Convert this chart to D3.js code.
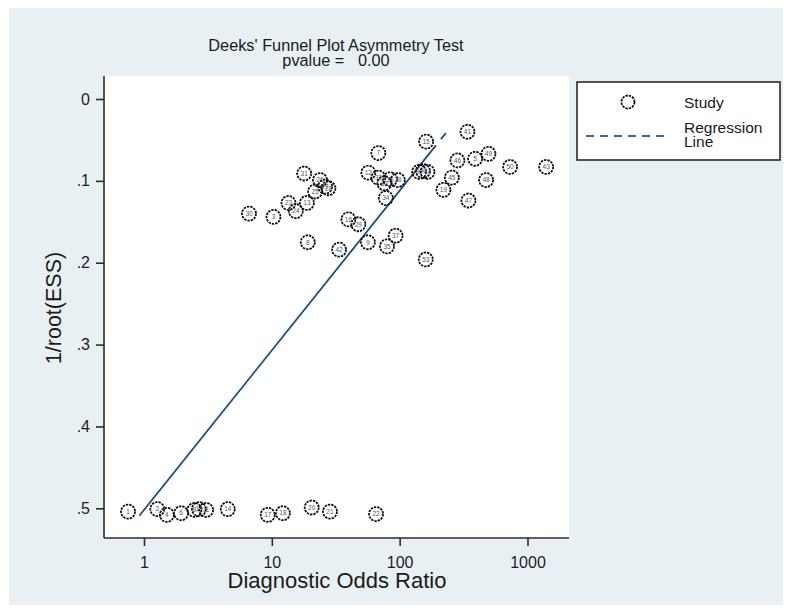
<!DOCTYPE html>
<html>
<head>
<meta charset="utf-8">
<script src="https://cdn.jsdelivr.net/npm/d3@7"></script>
<style>
  html, body { margin: 0; padding: 0; background: #ffffff; }
  svg { display: block; }
  text { font-family: "Liberation Sans", Arial, Helvetica, sans-serif; }
</style>
</head>
<body>
<svg id="chart" width="790" height="613"></svg>
<script>
// ---------------- data ----------------
const titleLines = ["Deeks' Funnel Plot Asymmetry Test", "pvalue =   0.00"];
const xLabel = "Diagnostic Odds Ratio";
const yLabel = "1/root(ESS)";
const xTicks = [1, 10, 100, 1000];
const xTickLabels = ["1", "10", "100", "1000"];
const yTicks = [0, 0.1, 0.2, 0.3, 0.4, 0.5];
const yTickLabels = ["0", ".1", ".2", ".3", ".4", ".5"];

// Diagnostic odds ratio of each study
const studyDOR = [
  0.75, 1.27, 1.51, 1.95, 2.48, 2.69, 3.06, 4.52, 9.29, 12.2, 20.5, 28.5, 65.3,
  6.63, 10.3, 13.5, 15.4, 17.9, 18.8, 19.1, 21.8, 23.8, 26.1, 27.7, 33.6, 39.7,
  47.5, 56.4, 56.9, 68.1, 68.1, 75.9, 77.9, 79.6, 84.1, 92.9, 96.7, 142, 152,
  161, 165, 160, 220, 256, 283, 339, 345, 389, 474, 495, 731, 1399
];
// 1/sqrt(effective sample size) of each study
const studyInvRootESS = [
  0.504, 0.501, 0.508, 0.506, 0.502, 0.501, 0.502, 0.501, 0.508, 0.506, 0.499, 0.504, 0.507,
  0.140, 0.144, 0.127, 0.137, 0.091, 0.127, 0.175, 0.113, 0.099, 0.107, 0.109, 0.184, 0.147,
  0.153, 0.175, 0.090, 0.066, 0.096, 0.103, 0.121, 0.180, 0.098, 0.167, 0.099, 0.089, 0.088,
  0.052, 0.089, 0.196, 0.111, 0.096, 0.075, 0.040, 0.124, 0.073, 0.099, 0.067, 0.083, 0.083
];
// study identifiers printed inside the markers
const studyIds = [
  1, 2, 4, 6, 8, 10, 11, 14, 17, 18, 20, 21, 22,
  30, 3, 23, 24, 31, 13, 8, 25, 26, 27, 28, 42, 16,
  29, 9, 12, 7, 32, 33, 34, 35, 36, 37, 38, 39, 40,
  15, 44, 53, 19, 45, 46, 41, 47, 5, 48, 49, 50, 43
];

// regression line: 1/root(ESS) = intercept + slope * log10(DOR)
const regIntercept = 0.502;
const regSlope = -0.195;
const regDORRange = [0.92, 230];

const legendLabels = ["Study", "Regression", "Line"];

// ---------------- drawing ----------------
const svg = d3.select("#chart");

// graph region background
svg.append("rect").attr("x", 9).attr("y", 8).attr("width", 774).attr("height", 597)
  .attr("fill", "#e9f0f3");

// plot region
const plot = {left: 104, right: 569, top: 76, bottom: 538};
svg.append("rect").attr("x", plot.left).attr("y", plot.top)
  .attr("width", plot.right - plot.left).attr("height", plot.bottom - plot.top)
  .attr("fill", "#ffffff");

const x = d3.scaleLog().domain([1, 1000]).range([144, 527.5]);
const y = d3.scaleLinear().domain([0, 0.5]).range([99, 508.3]);

// title
svg.append("text").attr("x", 336).attr("y", 51).attr("text-anchor", "middle")
  .attr("font-size", 16.3).attr("fill", "#1a1a1a").text(titleLines[0]);
svg.append("text").attr("x", 336).attr("y", 66).attr("text-anchor", "middle")
  .attr("font-size", 16.3).attr("fill", "#1a1a1a").style("white-space", "pre")
  .attr("xml:space", "preserve").text(titleLines[1]);

// x axis
const xAxis = d3.axisBottom(x).tickValues(xTicks)
  .tickFormat((d, i) => xTickLabels[i]).tickSize(8).tickSizeOuter(0);
const gx = svg.append("g").attr("transform", `translate(0,${plot.bottom})`).call(xAxis);
gx.select(".domain").attr("d", `M${plot.left},0H${plot.right}`)
  .attr("stroke", "#2b2b2b").attr("stroke-width", 1.6);
gx.selectAll(".tick line").attr("stroke", "#2b2b2b").attr("stroke-width", 1.6);
gx.selectAll(".tick text").attr("font-size", 16).attr("fill", "#1f1a2e")
  .attr("dy", null).attr("y", 30)
  .style("font-family", "'Liberation Sans', Arial, sans-serif");

// y axis
const yAxis = d3.axisLeft(y).tickValues(yTicks)
  .tickFormat((d, i) => yTickLabels[i]).tickSize(8).tickSizeOuter(0);
const gy = svg.append("g").attr("transform", `translate(${plot.left},0)`).call(yAxis);
gy.select(".domain").attr("d", `M0,${plot.top}V${plot.bottom}`)
  .attr("stroke", "#2b2b2b").attr("stroke-width", 1.6);
gy.selectAll(".tick line").attr("stroke", "#2b2b2b").attr("stroke-width", 1.6);
gy.selectAll(".tick text").attr("font-size", 16).attr("fill", "#1f1a2e")
  .attr("x", -14)
  .style("font-family", "'Liberation Sans', Arial, sans-serif");

// axis titles
svg.append("text").attr("x", 337).attr("y", 588).attr("text-anchor", "middle")
  .attr("font-size", 22).attr("fill", "#1a1a1a").text(xLabel);
svg.append("text").attr("transform", "translate(61,308) rotate(-90)")
  .attr("text-anchor", "middle").attr("font-size", 21.5).attr("fill", "#1a1a1a").text(yLabel);

// regression line
const regColor = "#1f4f7c";
const regData = regDORRange.map(d => ({dor: d, v: regIntercept + regSlope * Math.log10(d)}));
const line = d3.line().x(d => x(d.dor)).y(d => y(d.v));
const regPath = svg.append("path").datum(regData).attr("d", line)
  .attr("fill", "none").attr("stroke", regColor).attr("stroke-width", 1.8);
const L = regPath.node().getTotalLength();
regPath.attr("stroke-dasharray", `${L - 16},8,8,40`);

// study markers
const studies = studyDOR.map((d, i) => ({dor: d, v: studyInvRootESS[i], id: studyIds[i]}));
const g = svg.append("g");
const mk = g.selectAll("g.study").data(studies).join("g")
  .attr("class", "study")
  .attr("transform", d => `translate(${x(d.dor)},${y(d.v)})`);
mk.append("circle").attr("r", 7).attr("fill", "none")
  .attr("stroke", "#101010").attr("stroke-width", 1.8).attr("stroke-dasharray", "2.4,1");
mk.append("text").attr("text-anchor", "middle").attr("dy", "0.35em")
  .attr("font-size", 6.5).attr("fill", "#4a5670").text(d => d.id);

// legend
const leg = svg.append("g");
leg.append("rect").attr("x", 577).attr("y", 82).attr("width", 203).attr("height", 78)
  .attr("fill", "#ffffff").attr("stroke", "#2a2a2a").attr("stroke-width", 1.6);
leg.append("circle").attr("cx", 628).attr("cy", 102).attr("r", 6.5).attr("fill", "none")
  .attr("stroke", "#101010").attr("stroke-width", 1.8).attr("stroke-dasharray", "2.4,1");
leg.append("text").attr("x", 684).attr("y", 108).attr("font-size", 15.5)
  .attr("fill", "#1a1a1a").text(legendLabels[0]);
leg.append("line").attr("x1", 586).attr("x2", 668).attr("y1", 136).attr("y2", 136)
  .attr("stroke", "#3a6a96").attr("stroke-width", 2).attr("stroke-dasharray", "8,6");
leg.append("text").attr("x", 684).attr("y", 133).attr("font-size", 15.5)
  .attr("fill", "#1a1a1a").text(legendLabels[1]);
leg.append("text").attr("x", 684).attr("y", 147).attr("font-size", 15.5)
  .attr("fill", "#1a1a1a").text(legendLabels[2]);
</script>
</body>
</html>
